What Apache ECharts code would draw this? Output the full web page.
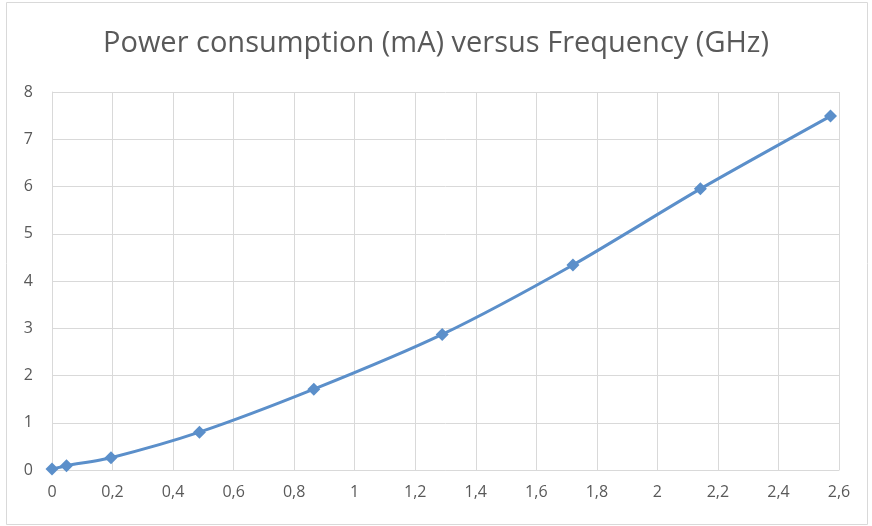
<!DOCTYPE html>
<html>
<head>
<meta charset="utf-8">
<script src="https://cdn.jsdelivr.net/npm/echarts@6/dist/echarts.min.js"></script>
<style>
  html, body { margin: 0; padding: 0; background: #fff; }
  #chart { width: 872px; height: 526px; }
</style>
</head>
<body>
<div id="chart"></div>
<script>
// frequency (GHz) and current (mA)
const freq = [0, 0.048, 0.195, 0.487, 0.865, 1.289, 1.721, 2.142, 2.572];
const current = [0.02, 0.09, 0.26, 0.80, 1.71, 2.87, 4.34, 5.95, 7.49];

const points = freq.map((f, i) => [f, current[i]]);

const chart = echarts.init(document.getElementById('chart'));

chart.setOption({
    animation: false,
    title: {
        text: 'Power consumption (mA) versus Frequency (GHz)',
        left: 'center',
        top: 24,
        textStyle: {
            fontFamily: 'Open Sans',
            fontSize: 29,
            fontWeight: 'normal',
            color: '#595959'
        }
    },
    graphic: [{
        type: 'rect',
        shape: { x: 6.5, y: 2.5, width: 861, height: 522 },
        style: { fill: 'none', stroke: '#d9d9d9', lineWidth: 1 },
        silent: true
    }],
    grid: {
        left: 52,
        right: 33,
        top: 92,
        bottom: 56,
        containLabel: false
    },
    xAxis: {
        type: 'value',
        min: 0,
        max: 2.6,
        interval: 0.2,
        axisLine: { show: true, lineStyle: { color: '#d9d9d9', width: 1 } },
        axisTick: { show: false },
        splitLine: { show: true, lineStyle: { color: '#d9d9d9', width: 1 } },
        axisLabel: {
            color: '#595959',
            fontFamily: 'Open Sans',
            fontSize: 16,
            margin: 14,
            formatter: v => String(Math.round(v * 10) / 10).replace('.', ',')
        }
    },
    yAxis: {
        type: 'value',
        min: 0,
        max: 8,
        interval: 1,
        axisLine: { show: true, lineStyle: { color: '#d9d9d9', width: 1 } },
        axisTick: { show: false },
        splitLine: { show: true, lineStyle: { color: '#d9d9d9', width: 1 } },
        axisLabel: {
            color: '#595959',
            fontFamily: 'Open Sans',
            fontSize: 16,
            margin: 19
        }
    },
    series: [{
        type: 'line',
        data: points,
        smooth: 0.25,
        symbol: 'diamond',
        symbolSize: 13,
        lineStyle: { color: '#5b8fca', width: 3 },
        itemStyle: { color: '#5b8fca' }
    }]
});
</script>
</body>
</html>
